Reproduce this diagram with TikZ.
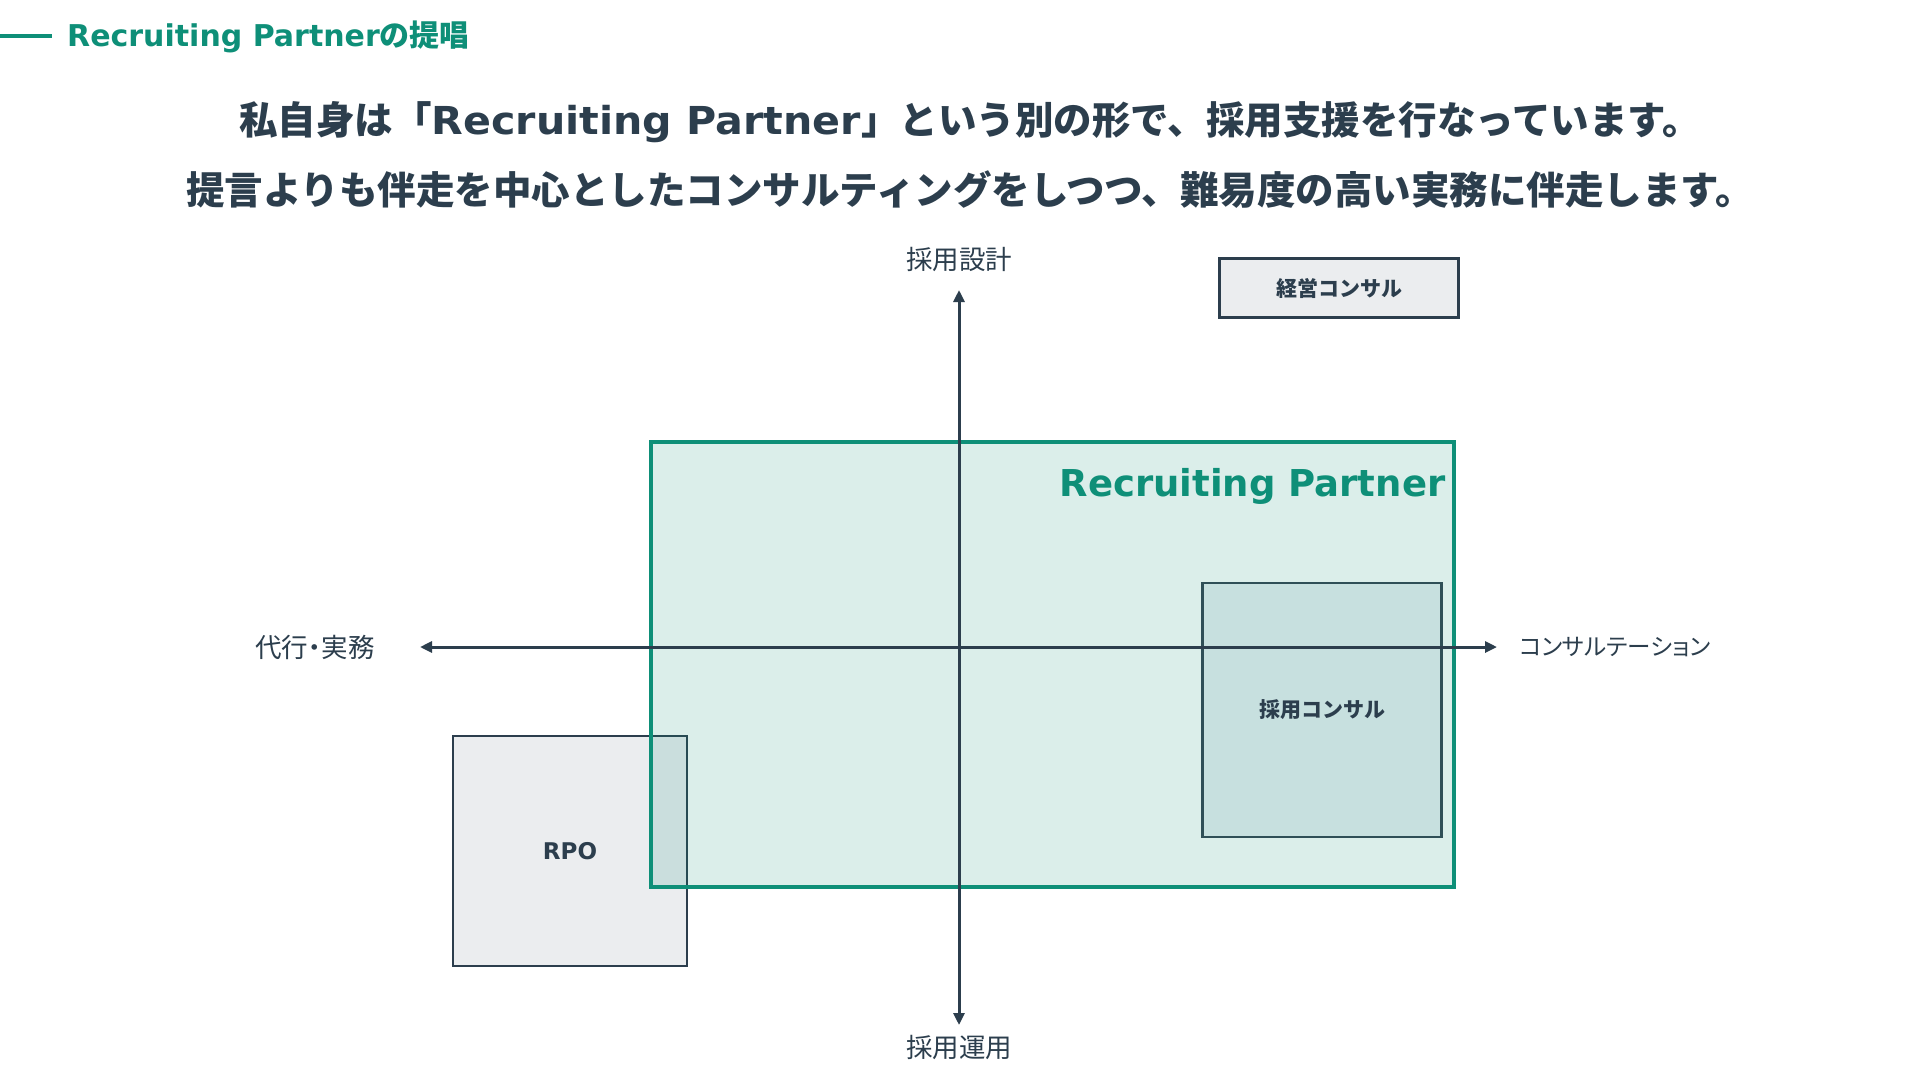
\documentclass[tikz,border=0pt]{standalone}
\usepackage{fontspec}
\usepackage{xcolor}
\usepackage{tikz}
\usetikzlibrary{positioning}
\usetikzlibrary{arrows.meta}

\setmainfont{Noto Sans CJK JP}
\newfontfamily\latinfont{DejaVu Sans}
\newfontfamily\widelatin{DejaVu Sans}[FakeStretch=1.07]
\newfontfamily\kanafont{Noto Sans CJK JP}[RawFeature=+palt]

\definecolor{ink}{HTML}{2C3E4D}
\definecolor{rpgreen}{HTML}{0E8F78}
\definecolor{boxgray}{HTML}{EBEDEF}
\definecolor{consultfill}{HTML}{C7E0DF}
\definecolor{consultline}{HTML}{2F4F57}

\begin{document}
\begin{tikzpicture}[x=1pt, y=-1pt,
		axis/.style={line width=3pt, ink, {Triangle[length=12pt,width=11pt]}-{Triangle[length=12pt,width=11pt]}},
		axislabel/.style={ink, font=\kanafont\fontsize{26.5}{32}\selectfont},
		headline/.style={ink, font=\bfseries\fontsize{38.5}{46}\selectfont},
		graybox/.style={draw=ink, line width=2.5pt, fill=boxgray, inner sep=0pt, text=ink, font=\bfseries\fontsize{21}{25}\selectfont}]

			% Page
			\fill[white] (0,0) rectangle (1920,1080);
			\useasboundingbox (0,0) rectangle (1920,1080);

			% Section title
			\coordinate (t0) at (0,36);
			\coordinate (t1) at (52,36);
			\draw[rpgreen, line width=3.5pt] (t0) -- (t1);
			\node[anchor=west, inner sep=0pt, rpgreen, font=\bfseries\fontsize{30}{36}\selectfont] (title) at (67,37) {{\latinfont Recruiting Partner}の提唱};

			% Message
			\node[headline] (msg1) at (970,122) {私自身は「{\widelatin Recruiting Partner}」という別の形で、採用支援を行なっています。};
			\node[headline] (msg2) at (970,190) {提言よりも伴走を中心としたコンサルティングをしつつ、難易度の高い実務に伴走します。};

			% Boxes
			\node[graybox, minimum width=234pt, minimum height=230pt] (rpo) at (570,851) {\latinfont\fontsize{23}{28}\selectfont RPO};
			\node[draw=rpgreen, line width=4pt, fill=rpgreen, fill opacity=0.15, draw opacity=1, inner sep=0pt, minimum width=803pt, minimum height=445pt] (rp) at (1052,664) {};
			\node[anchor=north east, inner sep=0pt, below left=29pt and 10pt of rp.north east, rpgreen, font=\bfseries\fontsize{37}{44}\selectfont\latinfont] (rplabel) {Recruiting Partner};
			\node[graybox, fill=consultfill, draw=consultline, minimum width=239pt, minimum height=254pt] (consultbox) at (1322,710) {採用コンサル};
			\node[graybox, minimum width=239pt, minimum height=59pt] (mgmt) at (1339,288) {経営コンサル};

			% Axes
			\coordinate (ytop) at (959,290);
			\coordinate (ybot) at (959,1025);
			\coordinate (xleft) at (420,647);
			\coordinate (xright) at (1497,647);
			\draw[axis] (ybot) -- (ytop);
			\draw[axis] (xleft) -- (xright);

			% Axis labels
			\node[axislabel] (design) at (959,260) {採用設計};
			\node[axislabel] (operation) at (959,1047) {採用運用};
			\node[axislabel] (agency) at (315,647) {代行・実務};
			\node[axislabel, font=\kanafont\fontsize{23.5}{28}\selectfont] (consulting) at (1615,647) {コンサルテーション};

		\end{tikzpicture}
\end{document}
